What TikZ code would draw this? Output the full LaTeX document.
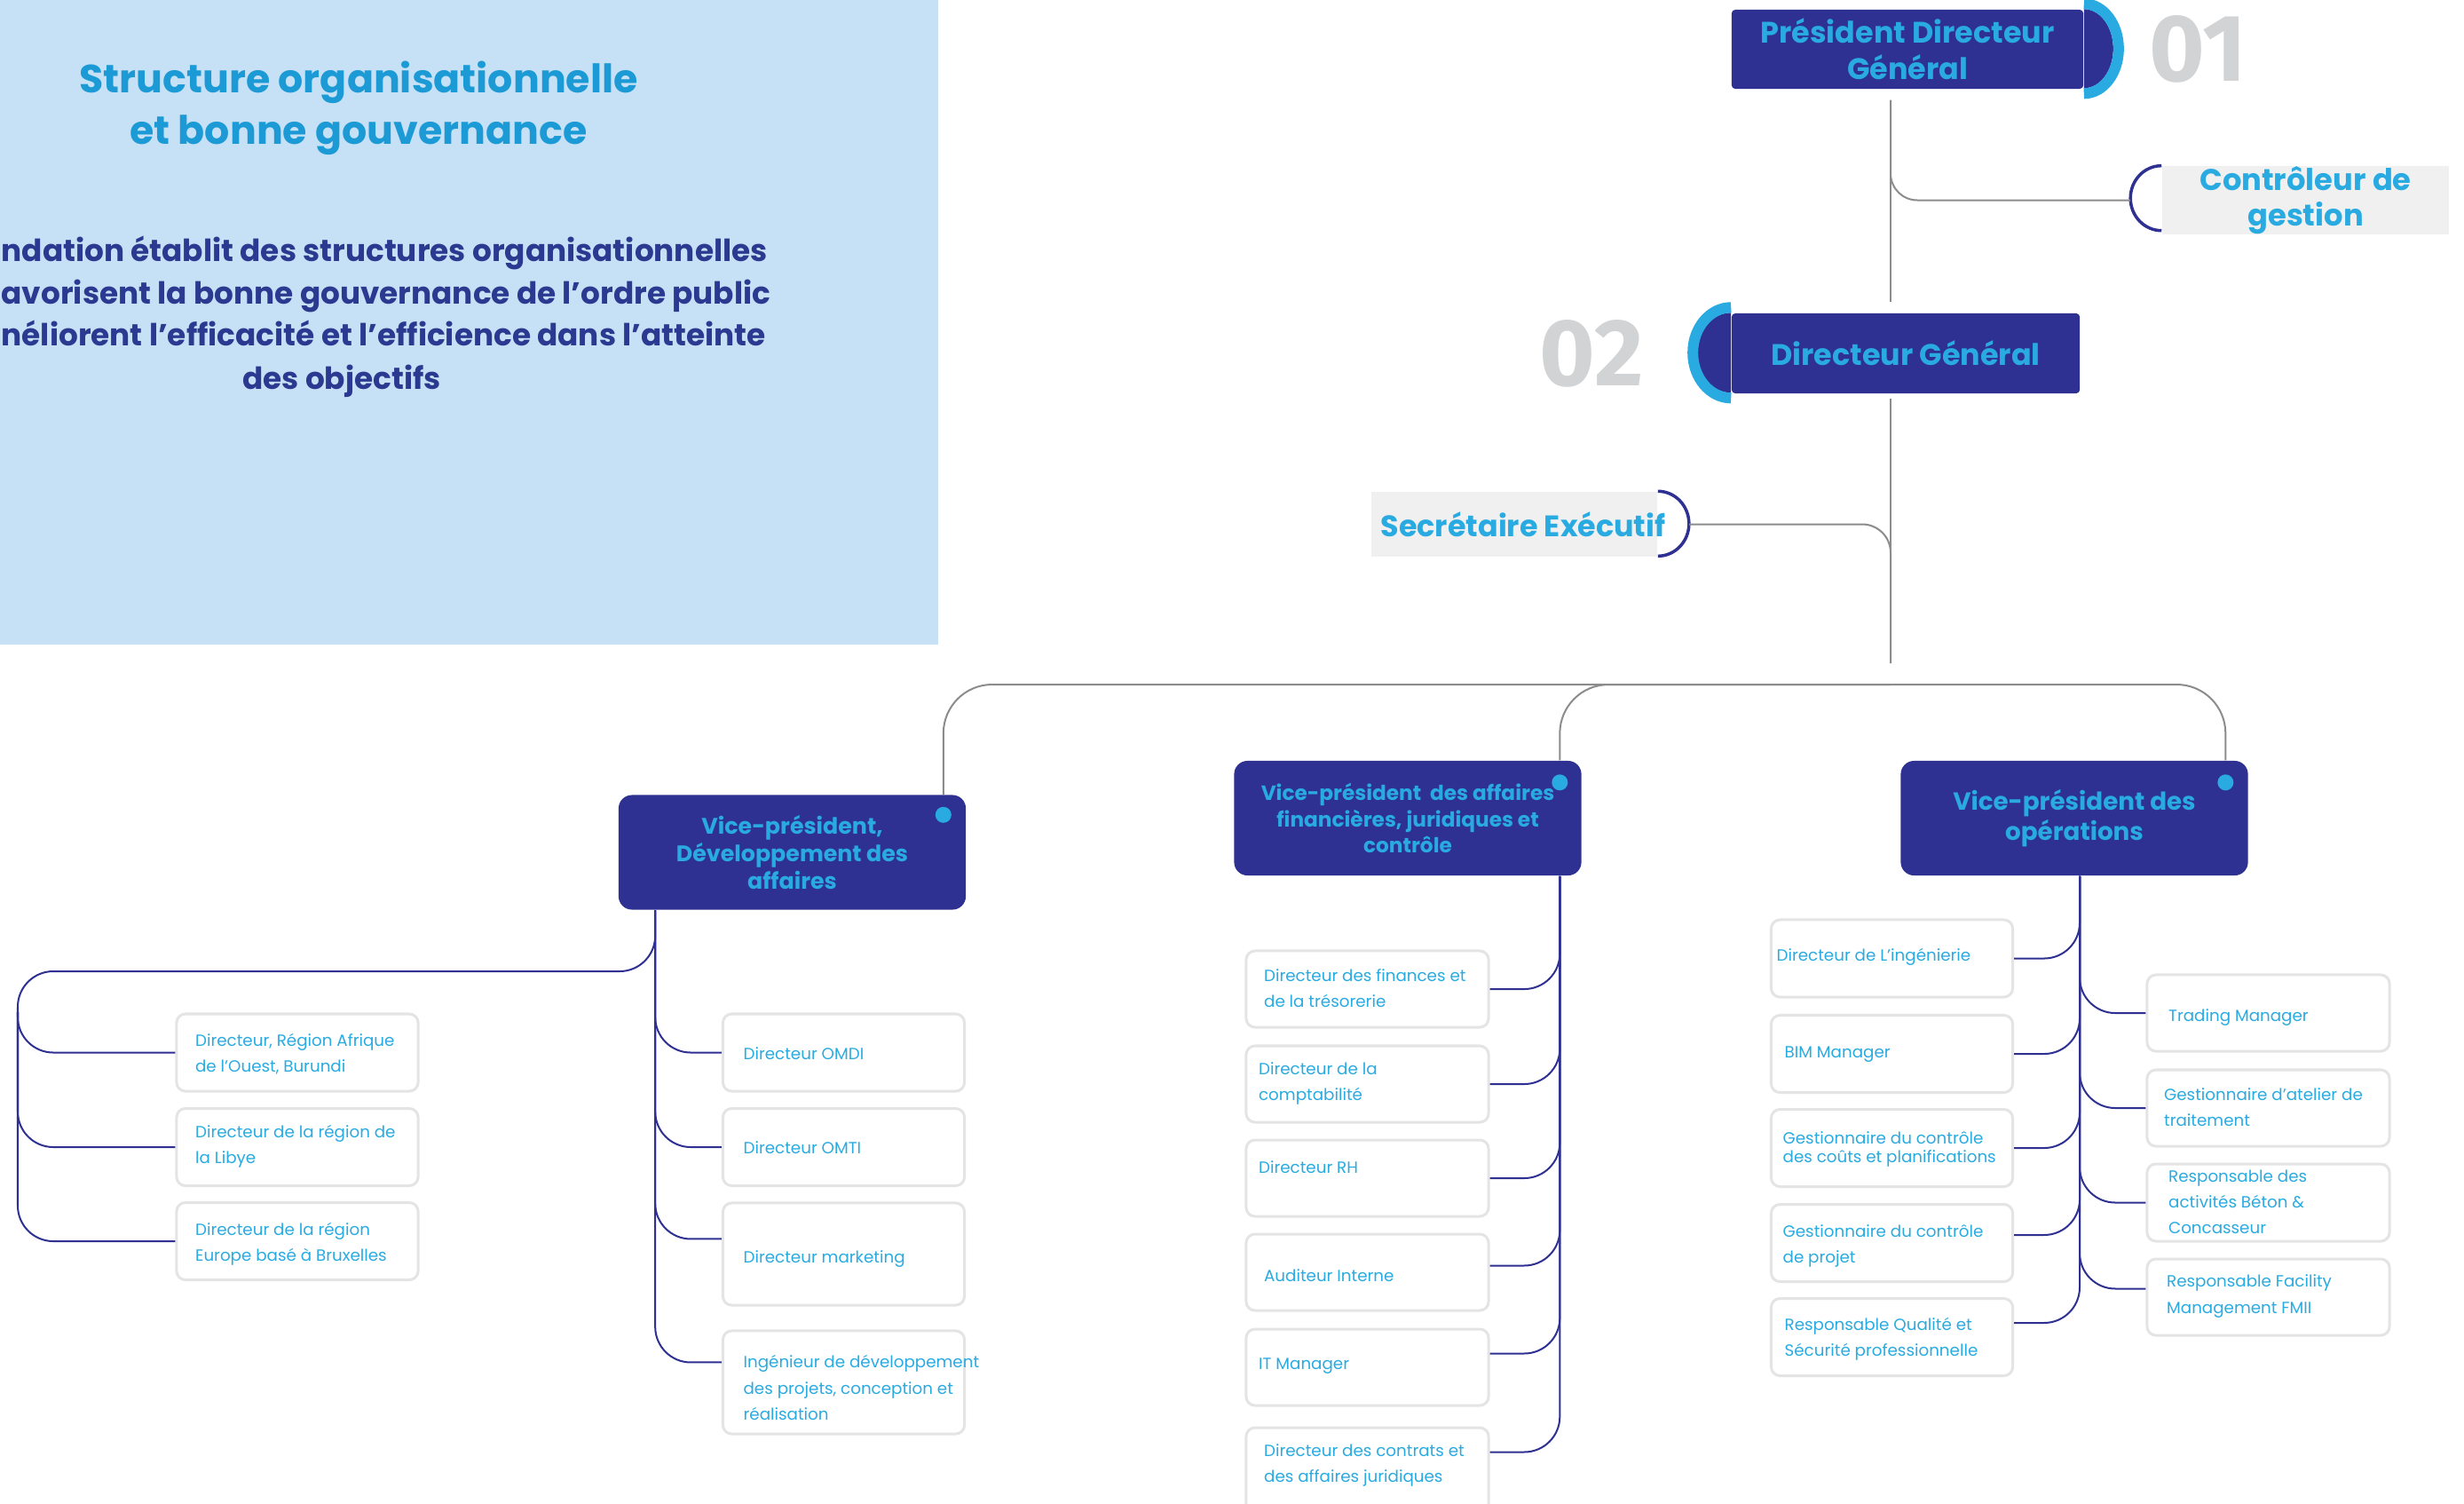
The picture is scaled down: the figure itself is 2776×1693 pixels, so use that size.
\documentclass[tikz,border=0pt]{standalone}
\usepackage{fontspec}
\setmainfont{Poppins}
\newfontfamily\numfont{Fira Sans}
\usetikzlibrary{positioning,calc}

\definecolor{navy}{HTML}{2E3192}
\definecolor{skyblue}{HTML}{29ABE2}
\definecolor{titleblue}{HTML}{1B9AD6}
\definecolor{panelblue}{HTML}{C6E1F5}
\definecolor{inkblue}{HTML}{2B3990}
\definecolor{numgray}{HTML}{D1D3D4}
\definecolor{linegray}{HTML}{8C8C8C}
\definecolor{boxgray}{HTML}{E4E4E4}
\definecolor{tabgray}{HTML}{F0F0F0}

\begin{document}
\begin{tikzpicture}[x=0.01cm,y=-0.01cm,
    grayline/.style={draw=linegray, line width=0.02cm},
    navyline/.style={draw=navy, line width=0.02cm, rounded corners=0.4cm},
    headbox/.style={fill=navy, rounded corners=0.04cm, inner sep=0pt, align=center,
        text=skyblue, font=\fontsize{9.5}{11.7}\selectfont\bfseries},
    tab/.style={fill=tabgray, inner sep=0pt, align=center, minimum width=3.23cm,
        minimum height=0.73cm, text=skyblue, font=\fontsize{9.6}{11.4}\selectfont\bfseries},
    num/.style={inner sep=0pt, text=numgray, font=\numfont\bfseries\fontsize{30.5}{30.5}\selectfont},
    vpbox/.style={fill=navy, rounded corners=0.15cm, inner sep=0pt, align=center,
        text=skyblue, minimum width=3.91cm, minimum height=1.29cm},
    vpdot/.style={circle, fill=skyblue, minimum size=0.18cm, inner sep=0pt},
    unitbox/.style={draw=boxgray, fill=white, line width=0.03cm, rounded corners=0.1cm,
        minimum width=2.72cm, minimum height=0.87cm, inner sep=0pt},
    unittxt/.style={anchor=west, align=left, inner sep=0pt, text=skyblue,
        font=\fontsize{5.2}{8.3}\selectfont},
    paratxt/.style={inner sep=0pt, text=inkblue, font=\fontsize{9.75}{13.7}\selectfont\bfseries}
]
\useasboundingbox (0,0) rectangle (2776,1693);
\fill[white] (0,0) rectangle (2776,1693);

% intro panel
\fill[panelblue] (0,0) rectangle (1057,726);
\node[inner sep=0pt, align=center, text=titleblue, font=\fontsize{12.6}{16.5}\selectfont\bfseries]
    (title) at (404,122) {Structure organisationnelle\\et bonne gouvernance};
\node[paratxt, anchor=base west] (para1) at (1,294) {ndation établit des structures organisationnelles};
\node[paratxt, anchor=base west] (para2) at (1,342) {avorisent la bonne gouvernance de l’ordre public};
\node[paratxt, anchor=base west] (para3) at (1,389) {néliorent l’efficacité et l’efficience dans l’atteinte};
\node[paratxt, anchor=base] (para4) at (385,438) {des objectifs};

% 01 president
\node[headbox, minimum width=3.96cm, minimum height=0.89cm] (pdg) at (2149,55.5) {Président Directeur\\Général};
\fill[navy] (pdg.north east) arc[start angle=90, end angle=-90, x radius=0.33cm, y radius=0.445cm];
\draw[skyblue, line width=0.12cm] ($(pdg.north east)+(0,-6)$) arc[start angle=90, end angle=-90, x radius=0.39cm, y radius=0.505cm];
\node[num, anchor=west] (n01) at ($(pdg.east)+(73,0)$) {01};

% controleur
\node[tab] (ctrl) at (2597.5,225.5) {Contrôleur de\\gestion};
\draw[navy, line width=0.035cm] (ctrl.north west) arc[start angle=90, end angle=270, x radius=0.35cm, y radius=0.365cm];
\coordinate (ctrltip) at ($(ctrl.west)+(-35,0)$);

% 02 directeur
\node[headbox, minimum width=3.92cm, minimum height=0.90cm] (dg) at (2147,398) {Directeur Général};
\fill[navy] (dg.north west) arc[start angle=90, end angle=270, x radius=0.38cm, y radius=0.45cm];
\draw[skyblue, line width=0.12cm] ($(dg.north west)+(0,-6)$) arc[start angle=90, end angle=270, x radius=0.43cm, y radius=0.51cm];
\node[num, anchor=east] (n02) at ($(dg.west)+(-98,0)$) {02};

% secretaire
\node[tab, minimum width=3.22cm] (sec) at (1706,590.5) {};
\node[inner sep=0pt, text=skyblue, font=\fontsize{9.5}{11.4}\selectfont\bfseries] (sec-t) at (1716,590.5) {Secrétaire Exécutif};
\draw[navy, line width=0.035cm] (sec.north east) arc[start angle=90, end angle=-90, x radius=0.35cm, y radius=0.365cm];
\coordinate (sectip) at ($(sec.east)+(35,0)$);

% spine
\coordinate (hub) at (2130,747);
\coordinate (bartop) at (2130,771);
\draw[grayline] ($(pdg.south -| hub)+(0,12)$) -- ($(dg.north -| hub)+(0,-12)$);
\draw[grayline, rounded corners=0.3cm] ($(pdg.south -| hub)+(0,12)$) |- (ctrltip);
\draw[grayline] ($(dg.south -| hub)+(0,5)$) -- (hub);
\draw[grayline, rounded corners=0.32cm] (sectip) -| (hub);

% vice-presidents
\node[vpbox, font=\fontsize{7.2}{8.8}\selectfont\bfseries] (vp1) at (892.5,960) {Vice-président,\\Développement des\\affaires};
\node[vpbox, font=\fontsize{6.6}{8.3}\selectfont\bfseries] (vp2) at (1586,921.5) {Vice-président\ \ des affaires\\financières, juridiques et\\contrôle};
\node[vpbox, font=\fontsize{7.9}{9.7}\selectfont\bfseries] (vp3) at (2337,921.5) {Vice-président des\\opérations};
\node[vpdot] (vp1dot) at ($(vp1.north east)+(-26,23)$) {};
\node[vpdot] (vp2dot) at ($(vp2.north east)+(-25,25)$) {};
\node[vpdot] (vp3dot) at ($(vp3.north east)+(-26,25)$) {};

\draw[grayline, rounded corners=0.55cm] (vp1dot |- vp1.north) |- (bartop) -| (vp3dot |- vp3.north);
\draw[grayline, rounded corners=0.55cm] (bartop) -| (vp2dot |- vp2.north);

\coordinate (t1) at ($(vp1.south west)+(42,0)$);
\coordinate (t2) at (vp2dot |- vp2.south);
\coordinate (t3) at ($(vp3.south)+(6,0)$);

% regions
\node[unitbox] (afr) at (335,1185.5) {};
\node[unitbox] (lib) at (335,1292) {};
\node[unitbox] (eur) at (335,1398) {};
\node[unittxt] (afr-t) at ($(afr.west)+(22,2)$) {Directeur, Région Afrique\\de l’Ouest, Burundi};
\node[unittxt] (lib-t) at ($(lib.west)+(22,-1)$) {Directeur de la région de\\la Libye};
\node[unittxt] (eur-t) at ($(eur.west)+(22,3)$) {Directeur de la région\\Europe basé à Bruxelles};
\coordinate (lbar) at (20,1094);
\coordinate (lbar2) at (20,1140);
\draw[navyline] (t1) |- (lbar) |- (eur.west);
\draw[navyline] (lbar2) |- (afr.west);
\draw[navyline] (lbar2) |- (lib.west);

% business development
\node[unitbox] (omdi) at (950.5,1185.5) {};
\node[unitbox] (omti) at (950.5,1292) {};
\node[unitbox, minimum height=1.15cm] (mkt) at (950.5,1412.5) {};
\node[unitbox, minimum height=1.16cm] (ing) at (950.5,1557) {};
\node[unittxt] (omdi-t) at ($(omdi.west)+(24,1)$) {Directeur OMDI};
\node[unittxt] (omti-t) at ($(omti.west)+(24,1)$) {Directeur OMTI};
\node[unittxt] (mkt-t) at ($(mkt.west)+(24,5)$) {Directeur marketing};
\node[unittxt] (ing-t) at ($(ing.west)+(24,6)$) {Ingénieur de développement\\des projets, conception et\\réalisation};
\draw[navyline] (t1) |- (omdi.west);
\draw[navyline] (t1) |- (omti.west);
\draw[navyline] (t1) |- ($(mkt.north west)+(0,42)$);
\draw[navyline] (t1) |- ($(ing.north west)+(0,37)$);

% finance
\node[unitbox, minimum width=2.73cm, minimum height=0.86cm] (fin) at (1540.5,1114) {};
\node[unitbox, minimum width=2.73cm, minimum height=0.86cm] (compta) at (1540.5,1221) {};
\node[unitbox, minimum width=2.73cm, minimum height=0.86cm] (rh) at (1540.5,1327) {};
\node[unitbox, minimum width=2.73cm, minimum height=0.86cm] (audit) at (1540.5,1433) {};
\node[unitbox, minimum width=2.73cm, minimum height=0.86cm] (itm) at (1540.5,1540) {};
\node[unitbox, minimum width=2.73cm, minimum height=0.96cm] (contr) at (1540.5,1656) {};
\node[unittxt] (fin-t) at ($(fin.west)+(21,-1)$) {Directeur des finances et\\de la trésorerie};
\node[unittxt] (compta-t) at ($(compta.west)+(15,-1)$) {Directeur de la\\comptabilité};
\node[unittxt] (rh-t) at ($(rh.west)+(15,-12)$) {Directeur RH};
\node[unittxt] (audit-t) at ($(audit.west)+(21,4)$) {Auditeur Interne};
\node[unittxt] (itm-t) at ($(itm.west)+(15,-1)$) {IT Manager};
\node[unittxt] (contr-t) at ($(contr.west)+(21,-6)$) {Directeur des contrats et\\des affaires juridiques};
\draw[navyline] (t2) |- (fin.east);
\draw[navyline] (t2) |- (compta.east);
\draw[navyline] (t2) |- (rh.east);
\draw[navyline] (t2) |- ($(audit.north east)+(0,37)$);
\draw[navyline] (t2) |- ($(itm.north east)+(0,29)$);
\draw[navyline] (t2) |- ($(contr.north east)+(0,29)$);

% operations, left
\node[unitbox] (eng) at (2131.5,1079.5) {};
\node[unitbox] (bim) at (2131.5,1187) {};
\node[unitbox] (cout) at (2131.5,1293) {};
\node[unitbox] (proj) at (2131.5,1400) {};
\node[unitbox] (qual) at (2131.5,1506) {};
\node[unittxt] (eng-t) at ($(eng.west)+(7,-1.5)$) {Directeur de L’ingénierie};
\node[unittxt] (bim-t) at ($(bim.west)+(16,1)$) {BIM Manager};
\node[unittxt, font=\fontsize{5.2}{6}\selectfont] (cout-t) at ($(cout.west)+(14,1.5)$) {Gestionnaire du contrôle\\des coûts et planifications};
\node[unittxt] (proj-t) at ($(proj.west)+(14,3.5)$) {Gestionnaire du contrôle\\de projet};
\node[unittxt] (qual-t) at ($(qual.west)+(16,2.5)$) {Responsable Qualité et\\Sécurité professionnelle};
\draw[navyline] (t3) |- (eng.east);
\draw[navyline] (t3) |- (bim.east);
\draw[navyline] (t3) |- (cout.east);
\draw[navyline] (t3) |- ($(proj.north east)+(0,36)$);
\draw[navyline] (t3) |- ($(qual.north east)+(0,29)$);

% operations, right
\node[unitbox, minimum width=2.73cm, minimum height=0.86cm] (trd) at (2555.5,1141) {};
\node[unitbox, minimum width=2.73cm, minimum height=0.86cm] (atl) at (2555.5,1248) {};
\node[unitbox, minimum width=2.73cm] (bet) at (2555.5,1354.5) {};
\node[unitbox, minimum width=2.73cm, minimum height=0.86cm] (fm) at (2555.5,1461) {};
\node[unittxt] (trd-t) at ($(trd.west)+(25,5)$) {Trading Manager};
\node[unittxt] (atl-t) at ($(atl.west)+(20,-1)$) {Gestionnaire d’atelier de\\traitement};
\node[unittxt] (bet-t) at ($(bet.west)+(25,-0.5)$) {Responsable des\\activités Béton \&\\Concasseur};
\node[unittxt] (fm-t) at ($(fm.west)+(23,-1)$) {Responsable Facility\\Management FMII};
\draw[navyline] (t3) |- (trd.west);
\draw[navyline] (t3) |- (atl.west);
\draw[navyline] (t3) |- (bet.west);
\draw[navyline] (t3) |- ($(fm.north west)+(0,35)$);

\end{tikzpicture}
\end{document}
